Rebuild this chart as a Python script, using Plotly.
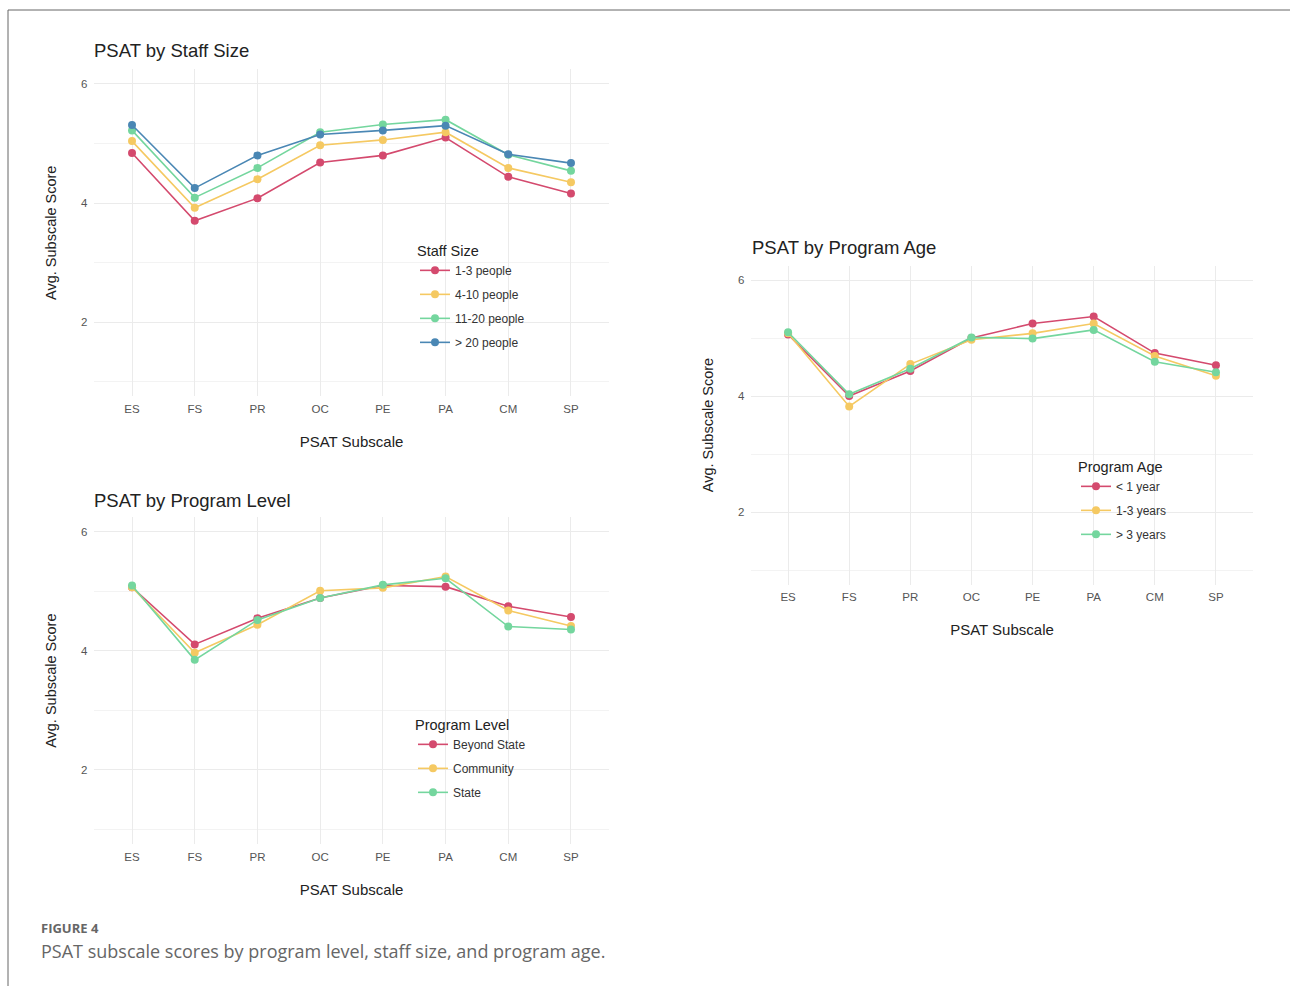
import plotly.graph_objects as go

W, H = 1290, 986

subscales = ["ES", "FS", "PR", "OC", "PE", "PA", "CM", "SP"]

# PSAT by Staff Size
staff_groups = ["1-3 people", "4-10 people", "11-20 people", "> 20 people"]
staff_1_3 = [4.84, 3.70, 4.08, 4.68, 4.80, 5.10, 4.44, 4.16]
staff_4_10 = [5.04, 3.92, 4.40, 4.97, 5.06, 5.19, 4.59, 4.35]
staff_11_20 = [5.22, 4.09, 4.59, 5.19, 5.32, 5.40, 4.81, 4.54]
staff_20_plus = [5.31, 4.25, 4.80, 5.15, 5.22, 5.30, 4.82, 4.67]

# PSAT by Program Level
level_groups = ["Beyond State", "Community", "State"]
level_beyond = [5.07, 4.11, 4.55, 4.89, 5.10, 5.08, 4.75, 4.57]
level_community = [5.07, 3.97, 4.44, 5.01, 5.06, 5.25, 4.68, 4.42]
level_state = [5.10, 3.85, 4.52, 4.89, 5.11, 5.22, 4.41, 4.36]

# PSAT by Program Age
age_groups = ["< 1 year", "1-3 years", "> 3 years"]
age_lt1 = [5.06, 4.00, 4.43, 5.00, 5.25, 5.37, 4.74, 4.53]
age_1_3 = [5.08, 3.82, 4.55, 4.97, 5.08, 5.25, 4.69, 4.35]
age_gt3 = [5.10, 4.03, 4.47, 5.01, 4.99, 5.14, 4.59, 4.41]

colors4 = ["#d44a6e", "#f5c962", "#74d69e", "#4a87b4"]

FONT = "Liberation Sans, Arial, sans-serif"
GRID = "#ebebeb"
TICKC = "#555555"


def px(x):
    return x / W


def py(y):
    return 1 - y / H


fig = go.Figure()

panels = [
    ("x", "y", "legend", staff_groups, [staff_1_3, staff_4_10, staff_11_20, staff_20_plus]),
    ("x2", "y2", "legend2", level_groups, [level_beyond, level_community, level_state]),
    ("x3", "y3", "legend3", age_groups, [age_lt1, age_1_3, age_gt3]),
]

for xa, ya, lg, names, series in panels:
    for i, (nm, vals) in enumerate(zip(names, series)):
        fig.add_trace(go.Scatter(
            x=subscales, y=vals, name=nm, mode="lines+markers",
            xaxis=xa, yaxis=ya, legend=lg, legendgroup=lg + str(i),
            line=dict(color=colors4[i], width=1.6),
            marker=dict(color=colors4[i], size=8),
            hoverinfo="skip",
        ))

# panel geometry (pixel coordinates)
geo = {
    "1": dict(x0=94.4, x1=608.6, y0=69.1, y1=396.4),
    "2": dict(x0=94.4, x1=608.6, y0=517.0, y1=844.4),
    "3": dict(x0=751.4, x1=1252.6, y0=265.5, y1=584.5),
}

layout = dict(
    width=W, height=H,
    margin=dict(l=0, r=0, t=0, b=0),
    paper_bgcolor="white", plot_bgcolor="white",
    font=dict(family=FONT, color="#222222"),
    showlegend=True,
)

for k, g in geo.items():
    sx = "xaxis" if k == "1" else "xaxis" + k
    sy = "yaxis" if k == "1" else "yaxis" + k
    anc_x = "y" if k == "1" else "y" + k
    anc_y = "x" if k == "1" else "x" + k
    layout[sx] = dict(
        domain=[px(g["x0"]), px(g["x1"])], anchor=anc_x,
        type="category", categoryorder="array", categoryarray=subscales,
        range=[-0.6, 7.6], showgrid=True, gridcolor=GRID, gridwidth=1.2,
        zeroline=False, showline=False, ticks="", ticklabelstandoff=4,
        tickfont=dict(size=11.5, color=TICKC, family=FONT),
        title=dict(text="PSAT Subscale", font=dict(size=15, color="#222222", family=FONT), standoff=22),
        fixedrange=True,
    )
    layout[sy] = dict(
        domain=[py(g["y1"]), py(g["y0"])], anchor=anc_y,
        range=[0.75, 6.25], tick0=0, dtick=2, showgrid=True, gridcolor=GRID, gridwidth=1.2,
        minor=dict(dtick=1, tick0=0, showgrid=True, gridcolor="#f3f3f3", gridwidth=0.8),
        zeroline=False, showline=False, ticks="", ticklabelstandoff=6,
        tickfont=dict(size=11.5, color=TICKC, family=FONT),
        title=dict(text="Avg. Subscale Score", font=dict(size=14.5, color="#222222", family=FONT), standoff=20),
        fixedrange=True,
    )

legend_common = dict(
    bgcolor="rgba(0,0,0,0)", borderwidth=0,
    font=dict(size=12, color="#333333", family=FONT),
    xanchor="left", yanchor="top", tracegroupgap=5,
    itemclick=False, itemdoubleclick=False,
)
layout["legend"] = dict(legend_common, x=px(415), y=py(237),
                        title=dict(text="Staff Size", font=dict(size=14.5, color="#222222", family=FONT)))
layout["legend2"] = dict(legend_common, x=px(413), y=py(711),
                         title=dict(text="Program Level", font=dict(size=14.5, color="#222222", family=FONT)))
layout["legend3"] = dict(legend_common, x=px(1076), y=py(453),
                         title=dict(text="Program Age", font=dict(size=14.5, color="#222222", family=FONT)))

fig.update_layout(**layout)

# panel titles
for txt, x, y in [("PSAT by Staff Size", 92, 51), ("PSAT by Program Level", 92, 500),
                  ("PSAT by Program Age", 750, 248)]:
    fig.add_annotation(text=txt, x=px(x), y=py(y), xref="paper", yref="paper",
                       xanchor="left", yanchor="middle", showarrow=False,
                       font=dict(size=18.5, color="#222222", family=FONT))

# caption
fig.add_annotation(text="<b>FIGURE 4</b>", x=px(39), y=py(928), xref="paper", yref="paper",
                   xanchor="left", yanchor="middle", showarrow=False,
                   font=dict(size=13, color="#666666", family="Open Sans, sans-serif"))
fig.add_annotation(text="PSAT subscale scores by program level, staff size, and program age.",
                   x=px(39), y=py(951), xref="paper", yref="paper",
                   xanchor="left", yanchor="middle", showarrow=False,
                   font=dict(size=18, color="#666666", family="Open Sans, sans-serif"))

# frame lines
fig.add_shape(type="line", xref="paper", yref="paper", x0=px(8), x1=1, y0=py(10), y1=py(10),
              line=dict(color="#666666", width=1))
fig.add_shape(type="line", xref="paper", yref="paper", x0=px(8), x1=px(8), y0=py(10), y1=0,
              line=dict(color="#666666", width=1))

fig.write_html("out.html", config={"displayModeBar": False},
               post_script="document.body.style.margin='0';document.body.style.overflow='hidden';")
